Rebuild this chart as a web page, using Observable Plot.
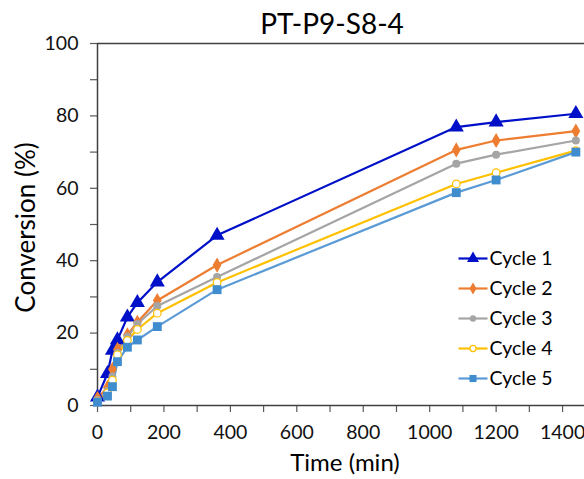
<!DOCTYPE html>
<html>
<head>
<meta charset="utf-8">
<script src="https://cdn.jsdelivr.net/npm/d3@7"></script>
<script src="https://cdn.jsdelivr.net/npm/@observablehq/plot@0.6"></script>
<style>
  html, body { margin: 0; padding: 0; background: #fff; }
  #chart { width: 584px; height: 479px; }
</style>
</head>
<body>
<div id="chart"></div>
<script>
const title = "PT-P9-S8-4";
const xLabel = "Time (min)";
const yLabel = "Conversion (%)";
const time = [0, 30, 45, 60, 90, 120, 180, 360, 1080, 1200, 1440];
const seriesNames = ["Cycle 1", "Cycle 2", "Cycle 3", "Cycle 4", "Cycle 5"];
const cycle1 = [2.3, 8.8, 15.2, 18.1, 24.4, 28.4, 34.1, 47.0, 76.9, 78.3, 80.6];
const cycle2 = [2.0, 5.0, 10.0, 15.5, 19.5, 23.0, 29.0, 38.8, 70.6, 73.2, 75.8];
const cycle3 = [1.5, 4.0, 8.0, 14.5, 19.0, 22.5, 27.5, 35.5, 66.8, 69.3, 73.2];
const cycle4 = [1.0, 3.5, 7.0, 14.0, 18.0, 21.0, 25.5, 34.0, 61.2, 64.3, 70.4];
const cycle5 = [0.9, 2.6, 5.2, 12.1, 16.1, 18.1, 21.8, 32.0, 58.8, 62.3, 70.0];
const xTicks = [0, 200, 400, 600, 800, 1000, 1200, 1400];
const yTicks = [0, 20, 40, 60, 80, 100];

const allValues = [cycle1, cycle2, cycle3, cycle4, cycle5];
const styles = [
  {color: "#0010c8", symbol: "triangle", r: 5.6, fill: "#0010c8"},
  {color: "#ed7d31", symbol: "diamond", r: 4.6, fill: "#ed7d31"},
  {color: "#a5a5a5", symbol: "circle", r: 4.0, fill: "#a5a5a5"},
  {color: "#ffc000", symbol: "circle", r: 3.8, fill: "#ffffff"},
  {color: "#5b9bd5", symbol: "square", r: 5.0, fill: "#3f8ccf"}
];

const data = [];
seriesNames.forEach((s, i) => {
  time.forEach((t, j) => data.push({series: s, idx: i, time: t, value: allValues[i][j]}));
});

const FONT = "Lato, 'Open Sans', sans-serif";
const lineSymbol = {
  draw(ctx) { ctx.moveTo(-14.5, 0); ctx.lineTo(14.5, 0); }
};

const marks = [];
marks.push(Plot.ruleY([yTicks[yTicks.length - 1]], {stroke: "#404040", strokeWidth: 1.5}));
marks.push(Plot.axisX({
  ticks: d3.range(0, 1401, 100), tickSize: 7, tickPadding: 13,
  tickFormat: d => xTicks.includes(d) ? String(d) : "",
  fontSize: 19.5, stroke: "#595959", strokeWidth: 1.2, fill: "#111", label: null
}));
marks.push(Plot.axisY({
  ticks: d3.range(0, 101, 10), tickSize: 7, tickPadding: 12,
  tickFormat: d => yTicks.includes(d) ? String(d) : "",
  fontSize: 19.5, stroke: "#595959", strokeWidth: 1.2, fill: "#111", label: null
}));
marks.push(Plot.ruleY([0], {stroke: "#404040", strokeWidth: 1.5}));
marks.push(Plot.ruleX([0], {stroke: "#404040", strokeWidth: 1.5}));

seriesNames.forEach((s, i) => {
  const st = styles[i];
  const d = data.filter(r => r.idx === i);
  marks.push(Plot.line(d, {x: "time", y: "value", stroke: st.color, strokeWidth: 2.2}));
});
seriesNames.forEach((s, i) => {
  const st = styles[i];
  const d = data.filter(r => r.idx === i);
  marks.push(Plot.dot(d, {x: "time", y: "value", symbol: st.symbol, r: st.r,
    fill: st.fill, stroke: st.fill === "#ffffff" ? st.color : "none", strokeWidth: 1.2}));
});

seriesNames.forEach((s, i) => {
  const st = styles[i];
  const dy = 215 + i * 30;
  marks.push(Plot.dot([s], {frameAnchor: "top-left", dx: 375.5, dy, symbol: lineSymbol, r: 5, stroke: st.color, strokeWidth: 2.2, fill: "none"}));
  marks.push(Plot.dot([s], {frameAnchor: "top-left", dx: 375.5, dy, symbol: st.symbol, r: st.r * 0.8,
    fill: st.fill, stroke: st.fill === "#ffffff" ? st.color : "none", strokeWidth: 1.2}));
  marks.push(Plot.text([s], {frameAnchor: "top-left", dx: 392, dy, text: d => d, textAnchor: "start", lineAnchor: "middle", fontSize: 19.5, fill: "#000"}));
});

marks.push(Plot.text([title], {frameAnchor: "top", dx: -9, dy: -18, text: d => d, lineAnchor: "middle", textAnchor: "middle", fontSize: 28, fill: "#000"}));
marks.push(Plot.text([xLabel], {frameAnchor: "bottom", dx: 4, dy: 58, text: d => d, lineAnchor: "middle", textAnchor: "middle", fontSize: 24, fill: "#000"}));
marks.push(Plot.text([yLabel], {frameAnchor: "left", dx: -71, dy: 3, rotate: -90, text: d => d, lineAnchor: "middle", textAnchor: "middle", fontSize: 26, fill: "#000"}));

const chart = Plot.plot({
  width: 584,
  height: 479,
  marginLeft: 97,
  marginRight: 0,
  marginTop: 43,
  marginBottom: 74,
  x: {domain: [0, 1466]},
  y: {domain: [0, 100]},
  style: {fontFamily: FONT, background: "#fff", overflow: "visible"},
  marks
});
document.getElementById("chart").appendChild(chart);
</script>
</body>
</html>
